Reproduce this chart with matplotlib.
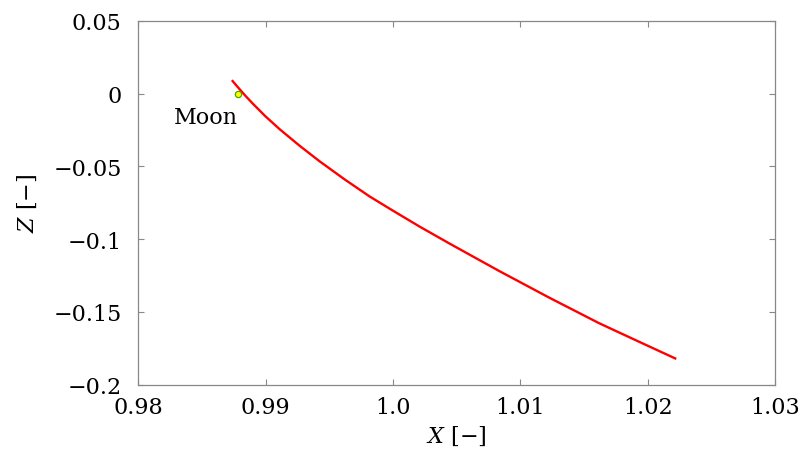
import matplotlib
matplotlib.use("Agg")
import matplotlib.pyplot as plt
from matplotlib.ticker import FixedLocator, FixedFormatter

plt.rcParams['font.family'] = ['DejaVu Serif']
plt.rcParams['mathtext.fontset'] = 'dejavuserif'

# Trajectory (X, Z)
traj_x = [0.98735, 0.98782, 0.98837, 0.98900, 0.98994, 0.99111, 0.99268,
          0.99425, 0.99621, 0.99817, 0.99998, 1.00209, 1.00445, 1.00837,
          1.01229, 1.01621, 1.01935, 1.02225]
traj_z = [0.00916, 0.00434, -0.00117, -0.00702, -0.01529, -0.02459, -0.03595,
          -0.04663, -0.05902, -0.07073, -0.08037, -0.09139, -0.10310, -0.12204,
          -0.14029, -0.15785, -0.17059, -0.18230]

moon_x = [0.98785]
moon_z = [0.0]
moon_label = "Moon"

xticks = [0.98, 0.99, 1.0, 1.01, 1.02, 1.03]
xticklabels = ["0.98", "0.99", "1.0", "1.01", "1.02", "1.03"]
yticks = [0.05, 0.0, -0.05, -0.1, -0.15, -0.2]
yticklabels = ["0.05", "0", "\u22120.05", "\u22120.1", "\u22120.15", "\u22120.2"]

FS = 16

fig = plt.figure(figsize=(8.03, 4.77), dpi=100)
ax = fig.add_axes([0.1722, 0.1914, 0.9651 - 0.1722, 0.9545 - 0.1914])

ax.plot(traj_x, traj_z, color='#ff0000', lw=1.7, solid_capstyle='butt',
        solid_joinstyle='round')
ax.plot(moon_x, moon_z, 'o', ms=4.5, mfc='#ffff00', mec='#44aa00', mew=0.9)
ax.text(0.98534, -0.0159, moon_label, fontsize=FS, ha='center', va='center')

ax.set_xlim(0.98, 1.03)
ax.set_ylim(-0.2, 0.05)
ax.xaxis.set_major_locator(FixedLocator(xticks))
ax.xaxis.set_major_formatter(FixedFormatter(xticklabels))
ax.yaxis.set_major_locator(FixedLocator(yticks))
ax.yaxis.set_major_formatter(FixedFormatter(yticklabels))

for s in ax.spines.values():
    s.set_color('#888888')
    s.set_linewidth(0.9)
ax.tick_params(direction='in', top=True, right=True, length=4, width=0.8,
               color='#888888', labelsize=FS, labelcolor='black')
ax.tick_params(axis='y', pad=12)
ax.tick_params(axis='x', pad=8)

ax.set_xlabel('$X$ [\u2212]', fontsize=FS, labelpad=4)
ax.set_ylabel('$Z$ [\u2212]', fontsize=FS, labelpad=10)

fig.savefig('out.png', dpi=100)
